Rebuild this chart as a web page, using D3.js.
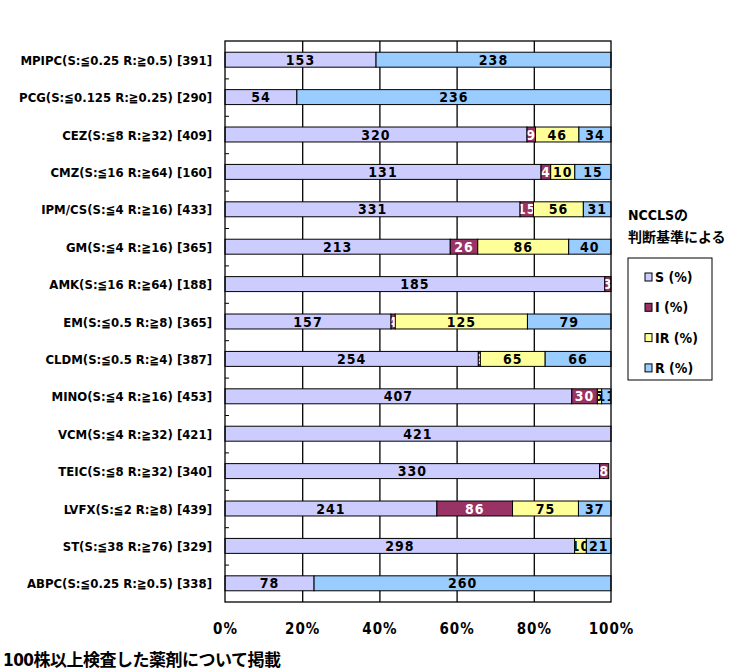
<!DOCTYPE html>
<html>
<head>
<meta charset="utf-8">
<script src="https://cdn.jsdelivr.net/npm/d3@7"></script>
<style>
  body { margin: 0; background: #fff; }
  svg text { font-family: "Liberation Sans Narrow", "DejaVu Sans Condensed", "Noto Sans CJK JP", sans-serif; font-weight: bold; }
</style>
</head>
<body>
<div id="chart"></div>
<script>
// Data
const drugs = [
  "MPIPC(S:≦0.25 R:≧0.5)", "PCG(S:≦0.125 R:≧0.25)", "CEZ(S:≦8 R:≧32)", "CMZ(S:≦16 R:≧64)",
  "IPM/CS(S:≦4 R:≧16)", "GM(S:≦4 R:≧16)", "AMK(S:≦16 R:≧64)", "EM(S:≦0.5 R:≧8)",
  "CLDM(S:≦0.5 R:≧4)", "MINO(S:≦4 R:≧16)", "VCM(S:≦4 R:≧32)", "TEIC(S:≦8 R:≧32)",
  "LVFX(S:≦2 R:≧8)", "ST(S:≦38 R:≧76)", "ABPC(S:≦0.25 R:≧0.5)"
];
const totals = [391, 290, 409, 160, 433, 365, 188, 365, 387, 453, 421, 340, 439, 329, 338];
const sVals  = [153, 54, 320, 131, 331, 213, 185, 157, 254, 407, 421, 330, 241, 298, 78];
const iVals  = [0, 0, 9, 4, 15, 26, 3, 4, 2, 30, 0, 8, 86, 0, 0];
const irVals = [0, 0, 46, 10, 56, 86, 0, 125, 65, 5, 0, 0, 75, 10, 0];
const rVals  = [238, 236, 34, 15, 31, 40, 0, 79, 66, 11, 0, 0, 37, 21, 260];

const seriesNames = ["S (%)", "I (%)", "IR (%)", "R (%)"];
const seriesColors = ["#CCCCFF", "#993366", "#FFFF99", "#99CCFF"];
const labelColors = ["#000", "#fff", "#000", "#000"];
const xTicks = [0, 0.2, 0.4, 0.6, 0.8, 1];

const margin = { top: 41, right: 127, bottom: 70, left: 225 };
const W = 738, H = 672;
const width = W - margin.left - margin.right;
const height = H - margin.top - margin.bottom;

const svg = d3.select("#chart").append("svg")
  .attr("width", W).attr("height", H);
const g = svg.append("g").attr("transform", `translate(${margin.left},${margin.top})`);

const x = d3.scaleLinear().domain([0, 1]).range([0, width]);
const y = d3.scaleBand().domain(drugs).range([0, height]).paddingInner(0.6).paddingOuter(0.3);
const yIdx = d3.scaleLinear().domain([0, drugs.length]).range([0, height]);

// Grid lines
g.append("g")
  .attr("transform", `translate(0,${height})`)
  .call(d3.axisBottom(x).tickValues([0.2, 0.4, 0.6, 0.8]).tickSize(-height).tickFormat(""))
  .call(a => a.select(".domain").remove())
  .call(a => a.selectAll("line").attr("stroke", "#000").attr("stroke-width", 1.3));

// Small ticks between categories
g.append("g")
  .call(d3.axisLeft(yIdx).tickValues(d3.range(1, drugs.length)).tickSize(-4).tickFormat(""))
  .call(a => a.select(".domain").remove())
  .call(a => a.selectAll("line").attr("stroke", "#000"));

// Stacked segments (share of the tested count)
const segs = drugs.map((d, i) => {
  const vals = [sVals[i], iVals[i], irVals[i], rVals[i]];
  let acc = 0;
  return vals.map((v, k) => {
    const seg = { drug: d, k, v, x0: acc / totals[i], x1: (acc + v) / totals[i] };
    acc += v;
    return seg;
  }).filter(s => s.v > 0);
}).flat();

// Clip each number to its own segment, like the original
svg.append("defs").selectAll("clipPath").data(segs).join("clipPath")
  .attr("id", (d, i) => "c" + i)
  .append("rect")
  .attr("x", d => x(d.x0) + 0.5)
  .attr("y", d => y(d.drug))
  .attr("width", d => Math.max(0, x(d.x1) - x(d.x0) - 1))
  .attr("height", y.bandwidth());

g.selectAll("rect.seg").data(segs).join("rect")
  .attr("class", "seg")
  .attr("x", d => x(d.x0))
  .attr("y", d => y(d.drug))
  .attr("width", d => x(d.x1) - x(d.x0))
  .attr("height", y.bandwidth())
  .attr("fill", d => seriesColors[d.k])
  .attr("stroke", "#000")
  .attr("stroke-width", 1);

g.selectAll("text.val").data(segs).join("text")
  .attr("class", "val")
  .attr("clip-path", (d, i) => `url(#c${i})`)
  .attr("x", d => (x(d.x0) + x(d.x1)) / 2)
  .attr("y", d => y(d.drug) + y.bandwidth() / 2 + 5)
  .attr("text-anchor", "middle")
  .attr("font-size", 14)
  .attr("letter-spacing", 1)
  .attr("fill", d => labelColors[d.k])
  .text(d => d.v);

// Plot border
g.append("rect")
  .attr("width", width).attr("height", height)
  .attr("fill", "none").attr("stroke", "#000").attr("stroke-width", 1.3);

// Category labels
g.selectAll("text.cat").data(drugs).join("text")
  .attr("class", "cat")
  .attr("x", -13)
  .attr("y", d => y(d) + y.bandwidth() / 2 + 5)
  .attr("text-anchor", "end")
  .attr("font-size", 13)
  .text((d, i) => `${d} [${totals[i]}]`);

// X axis labels
g.append("g")
  .attr("transform", `translate(0,${height})`)
  .call(d3.axisBottom(x).tickValues(xTicks).tickSize(0).tickPadding(21).tickFormat(d3.format(".0%")))
  .call(a => a.select(".domain").remove())
  .call(a => a.selectAll("text").attr("font-size", 15).attr("font-family", null).attr("letter-spacing", 1));

// Legend
const lg = svg.append("g").attr("transform", "translate(628,0)");
lg.append("text").attr("x", 0).attr("y", 220).attr("font-size", 14).text("NCCLSの");
lg.append("text").attr("x", 0).attr("y", 242).attr("font-size", 14).text("判断基準による");
lg.append("rect").attr("x", 0).attr("y", 258).attr("width", 84).attr("height", 122)
  .attr("fill", "#fff").attr("stroke", "#000");
const items = lg.selectAll("g.item").data(seriesNames).join("g")
  .attr("class", "item")
  .attr("transform", (d, i) => `translate(17,${277 + i * 30.3})`);
items.append("rect").attr("x", 0).attr("y", -4).attr("width", 7).attr("height", 8)
  .attr("fill", (d, i) => seriesColors[i]).attr("stroke", "#000");
items.append("text").attr("x", 10).attr("y", 5).attr("font-size", 14)
  .attr("font-family", "Liberation Sans, Arial, sans-serif").attr("font-weight", "normal")
  .text(d => d);

// Footnote
svg.append("text").attr("x", 3).attr("y", 666).attr("font-size", 17)
  .attr("font-family", "Noto Sans CJK JP").attr("font-weight", "bold")
  .attr("letter-spacing", -0.5)
  .text("100株以上検査した薬剤について掲載");
</script>
</body>
</html>
